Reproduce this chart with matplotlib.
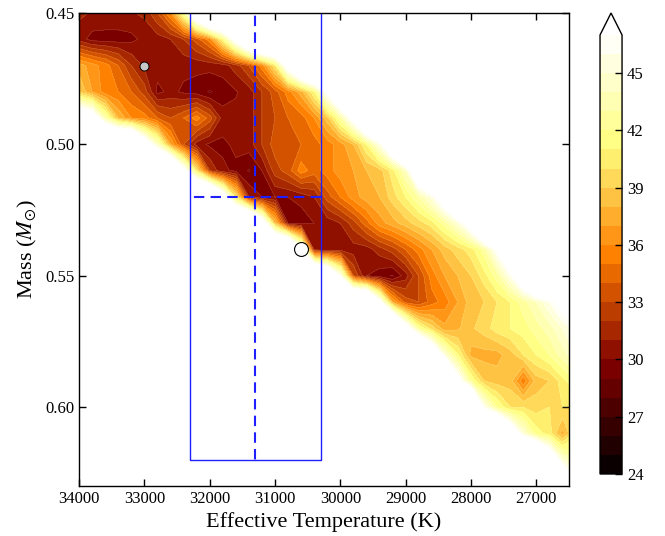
import numpy as np
import matplotlib
matplotlib.use('Agg')
import matplotlib.pyplot as plt
from matplotlib.ticker import FormatStrFormatter

plt.rcParams['font.family'] = 'serif'
plt.rcParams['font.serif'] = ['Liberation Serif', 'DejaVu Serif']
plt.rcParams['mathtext.fontset'] = 'stix'

# model grid: Teff from 34000 K down to 26400 K in 200 K steps, mass 0.45-0.63 in 0.01 steps
teff_grid = np.arange(34000, 26399, -200)
mass_grid = np.round(np.arange(0.45, 0.6351, 0.01), 2)

# chi^2 (one row per mass, columns follow teff_grid); 60 = off the scale
chi2 = [
    [31.2, 30.9, 30.9, 30.9, 30.9, 31.2, 33, 36, 42, 52, 60, 60, 60, 60, 60, 60, 60, 60, 60, 60,
     60, 60, 60, 60, 60, 60, 60, 60, 60, 60, 60, 60, 60, 60, 60, 60, 60, 60, 60],
    [30.5, 29.6, 29.5, 29.5, 29.7, 30.3, 30.5, 31, 32, 33.5, 35.5, 41, 48, 56, 60, 60, 60, 60, 60, 60,
     60, 60, 60, 60, 60, 60, 60, 60, 60, 60, 60, 60, 60, 60, 60, 60, 60, 60, 60],
    [37.5, 36.5, 35.5, 34, 32, 30.8, 30.5, 30.3, 30.3, 30.3, 30.4, 30.5, 31.5, 33, 35.5, 40, 48.5, 56, 60, 60,
     60, 60, 60, 60, 60, 60, 60, 60, 60, 60, 60, 60, 60, 60, 60, 60, 60, 60, 60],
    [39, 37, 35.5, 35, 34, 32.5, 29.7, 30.3, 29.8, 29.5, 28.9, 29.4, 29.9, 30.5, 32, 33.5, 35.5, 37.5, 41, 47.3,
     54, 60, 60, 60, 60, 60, 60, 60, 60, 60, 60, 60, 60, 60, 60, 60, 60, 60, 60],
    [52, 50, 43, 38, 36, 35.5, 34, 33, 34, 35.5, 33.5, 30.5, 30.3, 30.5, 32, 33, 34, 34.5, 36, 38.5,
     42.5, 48, 56, 60, 60, 60, 60, 60, 60, 60, 60, 60, 60, 60, 60, 60, 60, 60, 60],
    [60, 60, 60, 60, 60, 50, 44, 37, 33, 30.5, 29.8, 29.8, 30.2, 30.5, 32, 33.5, 34, 34, 34.5, 35.5,
     36.5, 38, 41, 45.5, 52, 60, 60, 60, 60, 60, 60, 60, 60, 60, 60, 60, 60, 60, 60],
    [60, 60, 60, 60, 60, 60, 60, 58, 48, 40, 32, 30.2, 29.8, 28.9, 30, 32.5, 33.5, 35.5, 34.5, 35.5,
     36.5, 37, 38, 38.5, 40.5, 44, 52, 60, 60, 60, 60, 60, 60, 60, 60, 60, 60, 60, 60],
    [60, 60, 60, 60, 60, 60, 60, 60, 60, 60, 60, 50, 40, 31, 30, 30, 30, 30.3, 31, 33.5,
     35, 36.5, 37.5, 38, 39.5, 41, 43, 45.5, 50, 58, 60, 60, 60, 60, 60, 60, 60, 60, 60],
    [60, 60, 60, 60, 60, 60, 60, 60, 60, 60, 60, 60, 60, 60, 50, 38, 30, 29.5, 30, 30.3,
     31, 32.5, 34.5, 36.5, 37.5, 38.5, 39.5, 40.5, 42.5, 45, 49, 58, 60, 60, 60, 60, 60, 60, 60],
    [60, 60, 60, 60, 60, 60, 60, 60, 60, 60, 60, 60, 60, 60, 60, 60, 60, 47, 30.5, 30.3,
     30.5, 30.5, 30.5, 31.5, 32.5, 34, 35.5, 37, 38.5, 39.5, 40.5, 42.5, 47, 56, 60, 60, 60, 60, 60],
    [60, 60, 60, 60, 60, 60, 60, 60, 60, 60, 60, 60, 60, 60, 60, 60, 60, 60, 60, 55,
     46, 33, 30, 29.4, 28.9, 30.5, 33, 35.5, 37, 38, 39, 40.5, 42.5, 46, 51, 58, 60, 60, 60],
    [60, 60, 60, 60, 60, 60, 60, 60, 60, 60, 60, 60, 60, 60, 60, 60, 60, 60, 60, 60,
     60, 60, 60, 47.5, 37, 33.5, 33, 34.5, 35.5, 37, 38.5, 39, 40, 41, 42.5, 44, 46, 48.5, 52],
    [60, 60, 60, 60, 60, 60, 60, 60, 60, 60, 60, 60, 60, 60, 60, 60, 60, 60, 60, 60,
     60, 60, 60, 60, 60, 49, 42, 39.5, 37.3, 37.8, 38.8, 39.5, 40.5, 41, 41.5, 42.5, 43.5, 45, 46.5],
    [60, 60, 60, 60, 60, 60, 60, 60, 60, 60, 60, 60, 60, 60, 60, 60, 60, 60, 60, 60,
     60, 60, 60, 60, 60, 60, 60, 52, 45, 41, 37.6, 37.6, 37.6, 38.5, 40, 41, 42, 43.5, 45],
    [60, 60, 60, 60, 60, 60, 60, 60, 60, 60, 60, 60, 60, 60, 60, 60, 60, 60, 60, 60,
     60, 60, 60, 60, 60, 60, 60, 60, 60, 48, 42, 39, 38.5, 38.5, 35.2, 38.5, 39, 40.5, 42],
    [60, 60, 60, 60, 60, 60, 60, 60, 60, 60, 60, 60, 60, 60, 60, 60, 60, 60, 60, 60,
     60, 60, 60, 60, 60, 60, 60, 60, 60, 60, 60, 46, 42, 40, 40, 39.5, 40, 40, 40],
    [60, 60, 60, 60, 60, 60, 60, 60, 60, 60, 60, 60, 60, 60, 60, 60, 60, 60, 60, 60,
     60, 60, 60, 60, 60, 60, 60, 60, 60, 60, 60, 60, 60, 51, 45, 41.5, 40.5, 37.5, 40.5],
    [60, 60, 60, 60, 60, 60, 60, 60, 60, 60, 60, 60, 60, 60, 60, 60, 60, 60, 60, 60,
     60, 60, 60, 60, 60, 60, 60, 60, 60, 60, 60, 60, 60, 60, 60, 60, 51, 45, 43],
    [60, 60, 60, 60, 60, 60, 60, 60, 60, 60, 60, 60, 60, 60, 60, 60, 60, 60, 60, 60,
     60, 60, 60, 60, 60, 60, 60, 60, 60, 60, 60, 60, 60, 60, 60, 60, 60, 54, 48],
]

levels = list(range(24, 48))
cbar_ticks = [24, 27, 30, 33, 36, 39, 42, 45]
x_ticks = [34000, 33000, 32000, 31000, 30000, 29000, 28000, 27000]
y_ticks = [0.45, 0.50, 0.55, 0.60]

# spectroscopic solution (box) and the two marked models
teff_spec, teff_err = 31300, 1000
mass_spec, mass_err = 0.52, 0.10
grey_pt = (33000, 0.47)
white_pt = (30600, 0.54)

fig = plt.figure(figsize=(6.65, 5.36), dpi=100)
ax = fig.add_axes([0.1188, 0.0933, 0.7368, 0.8825])
cax = fig.add_axes([0.9023, 0.1157, 0.0331, 0.860])

cs = ax.contourf(teff_grid, mass_grid, np.array(chi2), levels=levels, cmap='afmhot', extend='max')
ax.contour(teff_grid, mass_grid, np.array(chi2), levels=levels, colors='white',
           linewidths=0.3, alpha=0.25)

blue = '#1f1fff'
t_lo, t_hi = teff_spec - teff_err, teff_spec + teff_err
m_lo, m_hi = mass_spec - mass_err, mass_spec + mass_err
ax.plot([t_hi, t_hi, t_lo, t_lo], [m_lo, m_hi, m_hi, m_lo], color=blue, lw=1.0)
ax.plot([teff_spec, teff_spec], [m_lo, m_hi], color=blue, lw=1.5, dashes=(5, 3))
ax.plot([t_lo, t_hi], [mass_spec, mass_spec], color=blue, lw=1.5, dashes=(5, 3))

ax.plot(*grey_pt, 'o', mfc='0.78', mec='k', ms=6.5, mew=0.7, zorder=5)
ax.plot(*white_pt, 'o', mfc='white', mec='k', ms=10, mew=0.8, zorder=5)

ax.set_xlim(34000, 26500)
ax.set_ylim(0.63, 0.45)
ax.set_xticks(x_ticks)
ax.set_yticks(y_ticks)
ax.yaxis.set_major_formatter(FormatStrFormatter('%.2f'))
ax.tick_params(direction='in', top=True, right=True, length=5, width=1, labelsize=12)
for s in ax.spines.values():
    s.set_linewidth(1)
ax.set_xlabel('Effective Temperature (K)', fontsize=16)
ax.set_ylabel(r'Mass ($M_{\odot}$)', fontsize=16)

cb = fig.colorbar(cs, cax=cax, ticks=cbar_ticks)
cb.ax.tick_params(direction='in', length=5, width=1, labelsize=12)
cb.outline.set_linewidth(1)

fig.savefig('out.png', dpi=100)
